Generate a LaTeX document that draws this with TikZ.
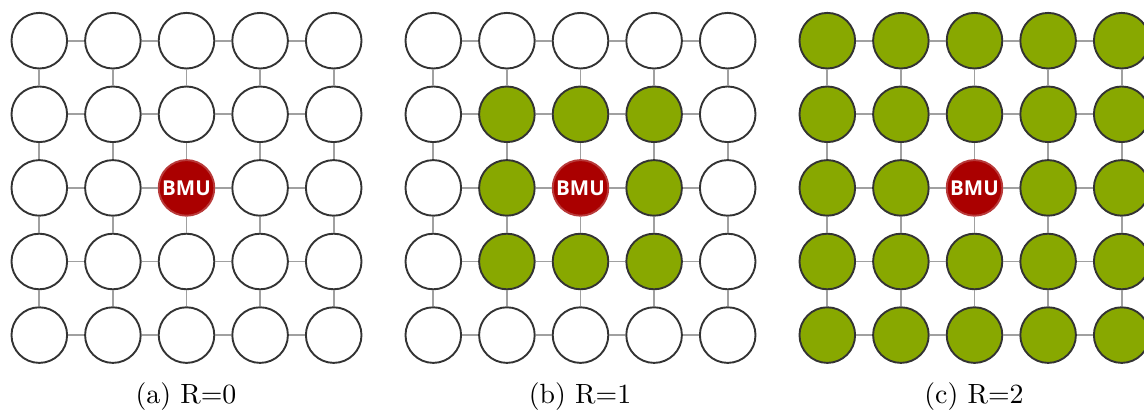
\documentclass[tikz,border=0pt]{standalone}
\usepackage{fontspec}
\newfontfamily\bmufont{Open Sans}
\definecolor{grn}{HTML}{88A800}
\definecolor{bmured}{HTML}{AA0000}
\definecolor{bmuedge}{HTML}{B83A3A}
\definecolor{ring}{HTML}{333333}
\definecolor{link}{HTML}{A0A0A0}
\begin{document}
\begin{tikzpicture}[x=1pt,y=1pt,
  cell/.style={circle,draw=ring,line width=1.9pt,minimum size=55.6pt,inner sep=0pt},
  plain/.style={cell,fill=white},
  hit/.style={cell,fill=grn},
  bmu/.style={cell,fill=bmured,draw=bmuedge,text=white,font=\bmufont\bfseries\fontsize{20.5}{22}\selectfont},
  conn/.style={draw=link,line width=1.8pt},
  captext/.style={font=\fontsize{10}{12}\selectfont,scale=2.78}]
\useasboundingbox (0,0) rectangle (1144,-414);
\clip (0,0) rectangle (1144,-414);
\foreach \p/\r/\ox in {a/0/0,b/1/394,c/2/788}{
  \foreach \i in {0,...,4}{
    \foreach \j in {0,...,4}{
      \pgfmathtruncatemacro\d{max(abs(\i-2),abs(\j-2))}
      \ifnum\d=0
        \node[bmu] (\p-\i-\j) at (\ox+39.3+73.6*\i,-40.7-73.6*\j) {BMU};
      \else\ifnum\d>\r
        \node[plain] (\p-\i-\j) at (\ox+39.3+73.6*\i,-40.7-73.6*\j) {};
      \else
        \node[hit] (\p-\i-\j) at (\ox+39.3+73.6*\i,-40.7-73.6*\j) {};
      \fi\fi
    }
  }
  \foreach \i [evaluate=\i as \n using int(\i+1)] in {0,...,3}{
    \foreach \j in {0,...,4}{
      \draw[conn] (\p-\i-\j) -- (\p-\n-\j);
      \draw[conn] (\p-\j-\i) -- (\p-\j-\n);
    }
  }
  \node[captext] (cap-\p) at (\ox+186,-397) {(\p) R=\r};
}
\end{tikzpicture}
\end{document}
